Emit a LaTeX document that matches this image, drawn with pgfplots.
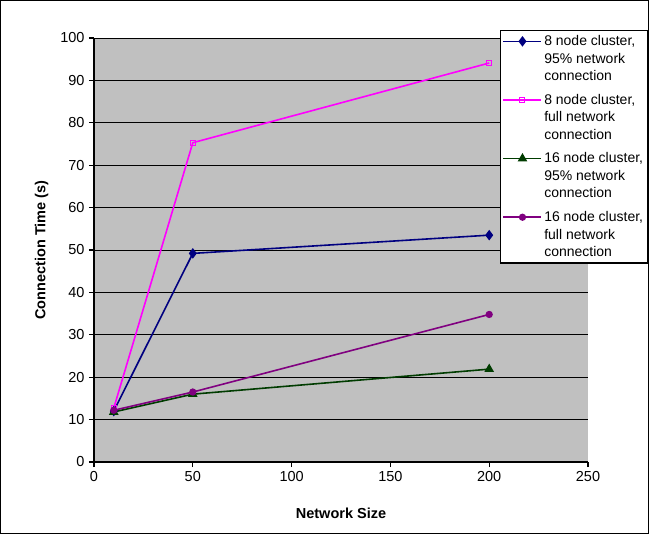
\documentclass[border=0pt]{standalone}
\usepackage{fontspec}
\setmainfont{Liberation Sans}
\usepackage{pgfplots}
\pgfplotsset{compat=1.18}
\definecolor{s1}{RGB}{0,0,128}
\definecolor{s2}{RGB}{255,0,255}
\definecolor{s3}{RGB}{0,60,0}
\definecolor{s4}{RGB}{128,0,128}
\definecolor{plotbg}{RGB}{192,192,192}
\begin{document}
\begin{tikzpicture}
\useasboundingbox (-94bp,-72bp) rectangle (555bp,462bp);
\draw[black,line width=1.2bp] (-93.4bp,-71.4bp) rectangle (554.4bp,461.4bp);
\begin{axis}[
  at={(0,0)}, anchor=south west,
  scale only axis, width=494bp, height=424bp,
  xmin=0, xmax=250, ymin=0, ymax=100,
  xtick={0,50,100,150,200,250},
  ytick={0,10,...,100},
  axis background/.style={fill=plotbg},
  axis x line*=bottom, axis y line*=left,
  axis line style={line width=1.5bp, -},
  ymajorgrids, grid style={black, line width=0.8bp},
  tick align=outside, major tick length=5bp,
  tick style={black, line width=1.2bp},
  /pgf/number format/assume math mode=true,
  ticklabel style={font=\fontsize{14.5bp}{17bp}\selectfont},
  yticklabel style={xshift=-1bp},
  xticklabel style={yshift=-1bp},
  xlabel={\bfseries Network Size},
  ylabel={\bfseries Connection Time (s)},
  label style={font=\fontsize{14.5bp}{17bp}\selectfont},
  xlabel style={yshift=-19bp},
  ylabel style={yshift=5bp},
  clip=false,
  legend style={at={(0.822,1.019)}, anchor=north west, draw=black, line width=1.2bp,
    fill=white, font=\fontsize{14bp}{17.5bp}\selectfont,
    cells={align=left, anchor=west}, row sep=8bp, inner xsep=2bp, inner ysep=3bp,
    legend image code/.code={\draw[mark repeat=2,mark phase=2,#1] plot coordinates {(0bp,17.5bp)(19bp,17.5bp)(38bp,17.5bp)};}},
  legend cell align=left,
]
\addplot[s1, line width=1.6bp, mark=diamond*, mark size=4bp, mark options={solid}] coordinates {(10,12) (50,49.2) (200,53.5)};
\addlegendentry{8 node cluster,\\95\% network\\connection}
\addplot[s2, line width=1.6bp, mark=square, mark size=2.5bp, mark options={solid, line width=1bp}] coordinates {(10,12.7) (50,75.3) (200,94.1)};
\addlegendentry{8 node cluster,\\full network\\connection}
\addplot[s3, line width=1.6bp, mark=triangle*, mark size=4bp, mark options={solid}] coordinates {(10,11.8) (50,16) (200,21.9)};
\addlegendentry{ 16 node cluster,\\95\% network\\connection}
\addplot[s4, line width=1.6bp, mark=*, mark size=2.8bp, mark options={solid}] coordinates {(10,12.2) (50,16.5) (200,34.8)};
\addlegendentry{16 node cluster,\\full network\\connection}
\end{axis}
\end{tikzpicture}
\end{document}
